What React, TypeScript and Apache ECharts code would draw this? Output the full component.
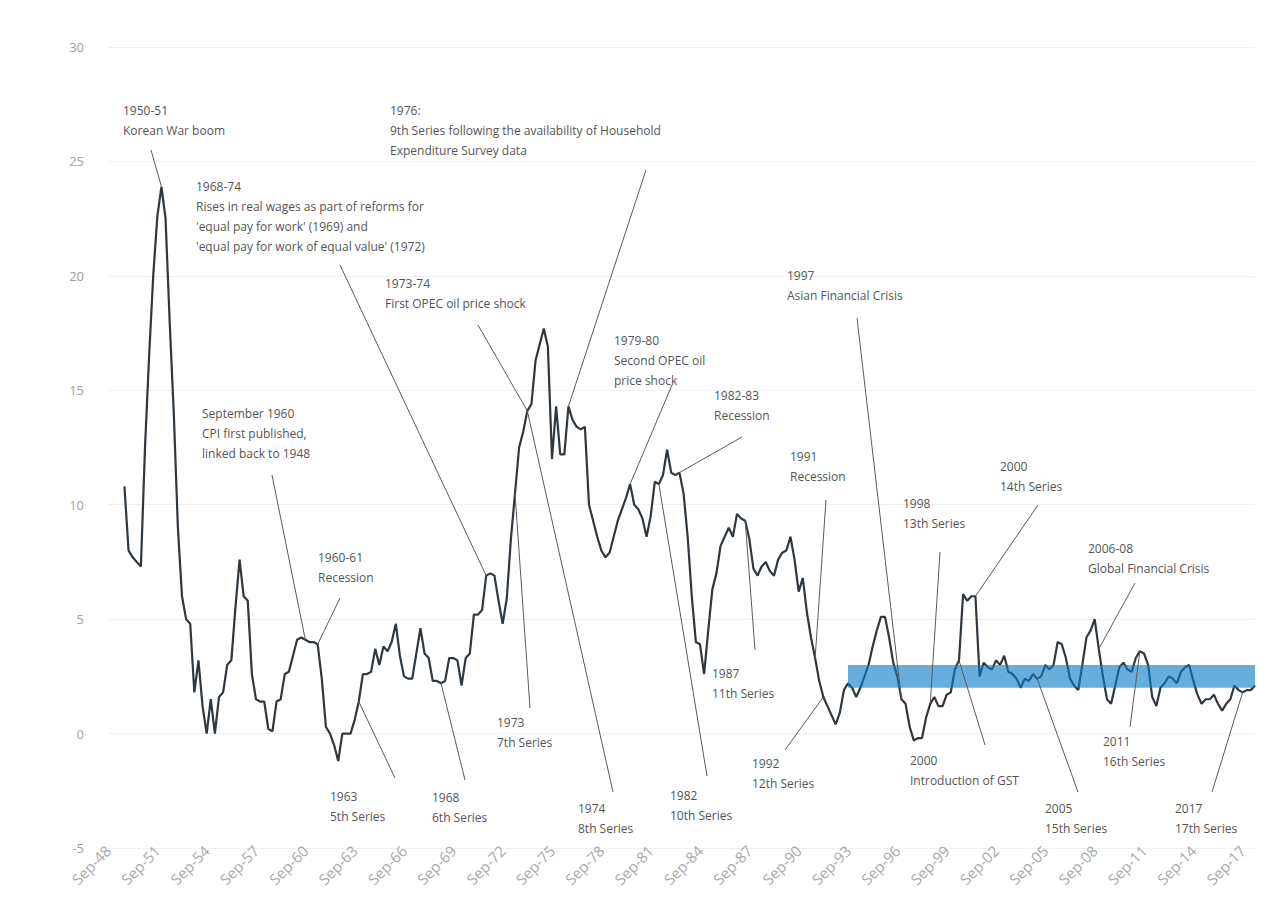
import React, { useEffect, useRef } from "react";
import * as echarts from "echarts";

// Quarterly categories Sep-48 .. Jun-18
const startYear = 1948;
const quarterMonths = ["Sep", "Dec", "Mar", "Jun"];
const categoryCount = 280;
const categories: string[] = [];
for (let i = 0; i < categoryCount; i++) {
  const m = quarterMonths[i % 4];
  const y = startYear + Math.floor(i / 4) + (i % 4 >= 2 ? 1 : 0);
  categories.push(m + "-" + String(y % 100).padStart(2, "0"));
}

// Annual % change in CPI, Sep-49 .. Jun-18
const firstDataIndex = 4;
const cpiValues = [
  10.8, 8.0, 7.7, 7.5, 7.3, 12.5, 16.5, 20.0, 22.6, 23.9, 22.5, 18.0, 14.0, 9.0, 6.0, 5.0,
  4.8, 1.8, 3.2, 1.2, 0.0, 1.5, 0.0, 1.6, 1.8, 3.0, 3.2, 5.5, 7.6, 6.0, 5.8, 2.6,
  1.5, 1.4, 1.4, 0.2, 0.1, 1.4, 1.5, 2.6, 2.7, 3.4, 4.1, 4.2, 4.1, 4.0, 4.0, 3.9,
  2.4, 0.3, 0.0, -0.5, -1.2, 0.0, 0.0, 0.0, 0.6, 1.4, 2.6, 2.6, 2.7, 3.7, 3.0, 3.8,
  3.6, 4.0, 4.8, 3.4, 2.5, 2.4, 2.4, 3.5, 4.6, 3.5, 3.3, 2.3, 2.3, 2.2, 2.3, 3.3,
  3.3, 3.2, 2.1, 3.3, 3.5, 5.2, 5.2, 5.4, 6.9, 7.0, 6.9, 5.8, 4.8, 5.9, 8.5, 10.5,
  12.5, 13.2, 14.1, 14.4, 16.3, 17.0, 17.7, 16.9, 12.0, 14.3, 12.2, 12.2, 14.3, 13.7, 13.4, 13.3,
  13.4, 10.0, 9.3, 8.6, 8.0, 7.7, 7.9, 8.6, 9.3, 9.8, 10.3, 10.9, 10.0, 9.8, 9.4, 8.6,
  9.5, 11.0, 10.9, 11.3, 12.4, 11.4, 11.3, 11.4, 10.5, 8.6, 6.0, 4.0, 3.9, 2.6, 4.5, 6.3,
  7.0, 8.2, 8.6, 9.0, 8.6, 9.6, 9.4, 9.3, 8.5, 7.2, 6.9, 7.3, 7.5, 7.1, 6.9, 7.6,
  7.9, 8.0, 8.6, 7.6, 6.2, 6.8, 5.3, 4.2, 3.3, 2.3, 1.6, 1.2, 0.8, 0.4, 0.9, 1.9,
  2.2, 2.0, 1.6, 2.0, 2.5, 3.0, 3.8, 4.5, 5.1, 5.1, 4.2, 3.1, 2.5, 1.5, 1.3, 0.3,
  -0.3, -0.2, -0.2, 0.7, 1.3, 1.6, 1.2, 1.2, 1.7, 1.8, 2.8, 3.2, 6.1, 5.8, 6.0, 6.0,
  2.5, 3.1, 2.9, 2.8, 3.2, 3.0, 3.4, 2.7, 2.6, 2.4, 2.0, 2.4, 2.3, 2.6, 2.4, 2.5,
  3.0, 2.8, 3.0, 4.0, 3.9, 3.3, 2.4, 2.1, 1.9, 3.0, 4.2, 4.5, 5.0, 3.7, 2.5, 1.5,
  1.3, 2.1, 2.9, 3.1, 2.8, 2.7, 3.3, 3.6, 3.5, 3.0, 1.6, 1.2, 2.0, 2.2, 2.5, 2.4,
  2.2, 2.7, 2.9, 3.0, 2.3, 1.7, 1.3, 1.5, 1.5, 1.7, 1.3, 1.0, 1.3, 1.5, 2.1, 1.9,
  1.8, 1.9, 1.9, 2.1,
];

// Inflation target band (2-3%) from Sep-93
const bandStart = "Sep-93";
const bandEnd = "Jun-18";
const bandLow = 2;
const bandHigh = 3;

// Annotations: text, text position (first line centre), leader start, target category index
const annotationTexts = [
  "1950-51\nKorean War boom",
  "1976:\n9th Series following the availability of Household\nExpenditure Survey data",
  "1968-74\nRises in real wages as part of reforms for\n'equal pay for work' (1969) and\n'equal pay for work of equal value' (1972)",
  "1973-74\nFirst OPEC oil price shock",
  "1979-80\nSecond OPEC oil\nprice shock",
  "1982-83\nRecession",
  "September 1960\nCPI first published,\nlinked back to 1948",
  "1960-61\nRecession",
  "1997\nAsian Financial Crisis",
  "1991\nRecession",
  "1998\n13th Series",
  "2000\n14th Series",
  "2006-08\nGlobal Financial Crisis",
  "1963\n5th Series",
  "1968\n6th Series",
  "1973\n7th Series",
  "1974\n8th Series",
  "1982\n10th Series",
  "1987\n11th Series",
  "1992\n12th Series",
  "2000\nIntroduction of GST",
  "2005\n15th Series",
  "2011\n16th Series",
  "2017\n17th Series",
];
const annotationTextPos = [
  [123, 110], [390, 110], [196, 186], [385, 283], [614, 340], [714, 395], [202, 413],
  [318, 557], [787, 275], [790, 456], [903, 503], [1000, 466], [1088, 548], [330, 796],
  [432, 797], [497, 722], [578, 808], [670, 795], [712, 673], [752, 763], [910, 760],
  [1045, 808], [1103, 741], [1175, 808],
];
const annotationLeaderStart = [
  [151, 150], [646, 170], [340, 265], [478, 325], [672, 385], [742, 437], [272, 475],
  [340, 598], [857, 318], [826, 500], [940, 552], [1038, 505], [1135, 583], [395, 778],
  [465, 780], [530, 708], [613, 792], [707, 776], [755, 650], [785, 750], [985, 745],
  [1078, 792], [1130, 727], [1212, 792],
];
const annotationTargetIndex = [
  13, 112, 92, 102, 127, 138, 48, 51, 193, 172, 200, 211, 241, 61, 81, 99, 102, 134, 155,
  174, 207, 226, 251, 276,
];

const yTicks = { min: -5, max: 30, interval: 5 };

export default function App() {
  const ref = useRef<HTMLDivElement>(null);
  useEffect(() => {
    document.body.style.margin = "0";
    document.body.style.overflow = "hidden";
    if (!ref.current) return;
    const chart = echarts.init(ref.current, undefined, { renderer: "svg" });
    const seriesData: (number | null)[] = [];
    for (let i = 0; i < categoryCount; i++) {
      const k = i - firstDataIndex;
      seriesData.push(k >= 0 && k < cpiValues.length ? cpiValues[k] : null);
    }
    chart.setOption({
      animation: false,
      backgroundColor: "#ffffff",
      grid: { left: 108, right: 25, top: 47, bottom: 51 },
      xAxis: {
        type: "category",
        data: categories,
        boundaryGap: false,
        axisLine: { show: false },
        axisTick: { show: false },
        splitLine: { show: false },
        axisLabel: {
          interval: 11,
          rotate: 45,
          color: "#a8a8a8",
          fontSize: 15,
          fontFamily: "Open Sans",
          margin: 0,
        },
      },
      yAxis: {
        type: "value",
        min: yTicks.min,
        max: yTicks.max,
        interval: yTicks.interval,
        axisLine: { show: false },
        axisTick: { show: false },
        axisLabel: { color: "#a0a0a0", fontSize: 13, fontFamily: "Open Sans", margin: 24 },
        splitLine: { lineStyle: { color: "#f0f0f0", width: 1 } },
      },
      series: [
        {
          type: "line",
          data: seriesData,
          showSymbol: false,
          connectNulls: false,
          lineStyle: { color: "#2e3840", width: 2.2 },
          z: 2,
          markArea: {
            silent: true,
            z: 5,
            itemStyle: { color: "rgba(10,125,200,0.62)" },
            data: [[{ xAxis: bandStart, yAxis: bandLow }, { xAxis: bandEnd, yAxis: bandHigh }]],
          },
        },
      ],
    });

    const lineHeight = 20;
    const elements: any[] = [];
    annotationTexts.forEach((t, i) => {
      const [tx, ty] = annotationTextPos[i];
      const [lx, ly] = annotationLeaderStart[i];
      const idx = annotationTargetIndex[i];
      const val = cpiValues[idx - firstDataIndex];
      const p = chart.convertToPixel({ gridIndex: 0 }, [idx, val]) as number[];
      elements.push({
        type: "line",
        silent: true,
        z: 10,
        shape: { x1: lx, y1: ly, x2: p[0], y2: p[1] },
        style: { stroke: "#5a5a5a", lineWidth: 1 },
      });
      elements.push({
        type: "text",
        silent: true,
        z: 11,
        x: tx,
        y: ty - lineHeight / 2,
        style: {
          text: t,
          fill: "#555555",
          fontSize: 12,
          fontFamily: "Open Sans",
          lineHeight: lineHeight,
          verticalAlign: "top",
          align: "left",
        },
      });
    });
    chart.setOption({ graphic: { elements } });

    return () => chart.dispose();
  }, []);
  return <div ref={ref} style={{ width: 1280, height: 899 }} />;
}
